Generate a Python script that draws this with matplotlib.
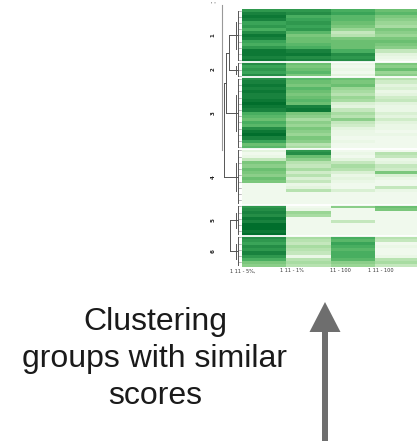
import numpy as np
import matplotlib
matplotlib.use("Agg")
import matplotlib.pyplot as plt
from matplotlib.patches import FancyArrow

# ---- data (values 0..1 on Greens scale) ----
cluster_names = ["1", "2", "3", "4", "5", "6"]
col_labels = ["1 11 - 5%,", "1 11 - 1%", "11 - 100", "1 11 - 100"]

c1_col1 = [0.8,0.9,0.95,0.9,0.75,0.8,0.7,0.85,0.95,0.9,0.75,0.7,0.8,0.95,0.95,0.9,0.95]
c1_col2 = [0.8,0.85,0.7,0.75,0.8,0.75,0.8,0.65,0.55,0.6,0.6,0.65,0.7,0.9,0.95,0.85,0.9]
c1_col3 = [0.7,0.75,0.65,0.65,0.6,0.55,0.45,0.3,0.35,0.55,0.6,0.6,0.6,0.7,0.85,0.8,0.85]
c1_col4 = [0.6,0.65,0.55,0.5,0.45,0.4,0.55,0.5,0.45,0.55,0.6,0.55,0.5,0.3,0.15,0.1,0.05]

c2_col1 = [0.85,0.75,0.8,0.75,0.85]
c2_col2 = [0.6,0.55,0.6,0.65,0.55]
c2_col3 = [0.1,0.05,0.1,0.05,0.15]
c2_col4 = [0.55,0.5,0.6,0.45,0.5]

c3_col1 = [0.85,0.9,0.95,0.9,0.95,0.9,0.9,0.95,1.0,0.95,0.9,0.7,0.65,0.6,0.7,0.65,0.85,0.95,1.0,0.9,0.75,0.6,0.65]
c3_col2 = [0.65,0.6,0.55,0.65,0.6,0.55,0.6,0.65,0.6,0.9,0.95,0.55,0.5,0.4,0.5,0.45,0.55,0.5,0.45,0.55,0.5,0.35,0.4]
c3_col3 = [0.6,0.55,0.6,0.45,0.4,0.35,0.45,0.4,0.2,0.15,0.3,0.4,0.35,0.5,0.3,0.25,0.15,0.1,0.1,0.05,0.1,0.05,0.05]
c3_col4 = [0.35,0.25,0.15,0.2,0.1,0.15,0.25,0.3,0.15,0.1,0.1,0.2,0.15,0.25,0.15,0.1,0.1,0.05,0.1,0.05,0.05,0.05,0.05]

c4_col1 = [0.15,0.05,0.1,0.3,0.55,0.5,0.6,0.55,0.5,0.6,0.55,0.05,0.05,0.05,0.05,0.05,0.05,0.05]
c4_col2 = [0.8,0.85,0.6,0.5,0.35,0.3,0.4,0.25,0.35,0.2,0.3,0.1,0.15,0.35,0.05,0.05,0.05,0.05]
c4_col3 = [0.05,0.1,0.05,0.15,0.3,0.4,0.35,0.2,0.1,0.15,0.1,0.05,0.05,0.2,0.05,0.05,0.05,0.05]
c4_col4 = [0.05,0.35,0.3,0.1,0.15,0.3,0.25,0.55,0.2,0.1,0.05,0.05,0.3,0.1,0.05,0.05,0.05,0.05]

c5_col1 = [0.8,0.85,0.9,0.85,0.95,0.9,1.0,1.0,0.95,1.0]
c5_col2 = [0.05,0.1,0.45,0.4,0.05,0.05,0.05,0.05,0.05,0.05]
c5_col3 = [0.5,0.05,0.05,0.05,0.05,0.3,0.05,0.05,0.05,0.05]
c5_col4 = [0.6,0.55,0.05,0.05,0.05,0.05,0.05,0.05,0.05,0.05]

c6_col1 = [0.85,0.8,0.75,0.85,0.8,0.9,0.8,0.7,0.55,0.5]
c6_col2 = [0.4,0.35,0.3,0.4,0.35,0.3,0.1,0.35,0.4,0.35]
c6_col3 = [0.7,0.65,0.75,0.7,0.65,0.7,0.7,0.65,0.5,0.45]
c6_col4 = [0.35,0.3,0.05,0.1,0.05,0.05,0.1,0.35,0.4,0.3]

clusters = [
    [c1_col1, c1_col2, c1_col3, c1_col4],
    [c2_col1, c2_col2, c2_col3, c2_col4],
    [c3_col1, c3_col2, c3_col3, c3_col4],
    [c4_col1, c4_col2, c4_col3, c4_col4],
    [c5_col1, c5_col2, c5_col3, c5_col4],
    [c6_col1, c6_col2, c6_col3, c6_col4],
]

caption_lines = ["Clustering", "groups with similar", "scores"]

# ---- figure ----
W, H = 417, 441
fig = plt.figure(figsize=(W / 100, H / 100), dpi=100)

# heatmap axes (pixel layout)
hx0, hx1, hy0, hy1 = 242, 420, 9, 267
ax = fig.add_axes([hx0 / W, 1 - hy1 / H, (hx1 - hx0) / W, (hy1 - hy0) / H])
mat = np.vstack([np.array(c).T for c in clusters])
ax.imshow(mat, cmap="Greens", vmin=0, vmax=1.15, aspect="auto", interpolation="nearest")
sizes = [len(c[0]) for c in clusters]
bounds = np.cumsum(sizes)
for b in bounds[:-1]:
    ax.axhline(b - 0.5, color="white", lw=1.3)
ax.set_axis_off()

# overlay axes in pixel coordinates
ov = fig.add_axes([0, 0, 1, 1])
ov.set_xlim(0, W)
ov.set_ylim(H, 0)
ov.set_axis_off()
ov.patch.set_alpha(0)

n = mat.shape[0]
rh = (hy1 - hy0) / n
starts = np.concatenate([[0], bounds[:-1]])
centers = [hy0 + (s + z / 2) * rh for s, z in zip(starts, sizes)]
tops = [hy0 + s * rh for s in starts]
bots = [hy0 + (s + z) * rh for s, z in zip(starts, sizes)]

lc = "#555555"
lw = 0.7
# leaf-level mini dendrograms
for t, b, c, z in zip(tops, bots, centers, sizes):
    for i in range(0, z, 2):
        y = t + (i + 0.5) * rh
        ov.plot([238.5, 241.5], [y, y], color="#888888", lw=0.4)
    ov.plot([238.5, 238.5], [t + rh / 2, b - rh / 2], color=lc, lw=lw)
    ov.plot([236, 238.5], [c, c], color=lc, lw=lw)
    ov.plot([236, 236], [c - (b - t) * 0.25, c + (b - t) * 0.25], color=lc, lw=lw)

# upper levels
def link(x_child, ya, yb, x_parent):
    ov.plot([x_parent, x_child], [ya, ya], color=lc, lw=lw)
    ov.plot([x_parent, x_child], [yb, yb], color=lc, lw=lw)
    ov.plot([x_parent, x_parent], [ya, yb], color=lc, lw=lw)
    return (ya + yb) / 2

m12 = link(236, centers[0], centers[1], 229.5)
m123 = link(229.5, m12, centers[2], 226.5)
ov.plot([229.5, 236], [centers[2], centers[2]], color=lc, lw=lw)
m1234 = link(226.5, m123, centers[3], 224)
ov.plot([226.5, 236], [centers[3], centers[3]], color=lc, lw=lw)
m56 = link(236, centers[4], centers[5], 230)
ov.plot([222.5, 222.5], [5, 150], color="#999999", lw=0.8)

# cluster labels
for name, c in zip(cluster_names, centers):
    ov.text(213, c, name, rotation=90, fontsize=4, ha="center", va="center",
            color="#222222", fontweight="bold")
ov.text(213, 5, "' '", fontsize=4, ha="center", va="center", color="#444444")

# column labels
for lab, x in zip(col_labels, [243, 292, 340, 381]):
    ov.text(x, 271, lab, fontsize=3.6, ha="center", va="center", color="#333333")

# caption
for line, yb in zip(caption_lines, [330, 367, 404]):
    ov.text(155, yb, line, fontsize=23, family="Liberation Sans", ha="center",
            va="baseline", color="#1a1a1a")

# arrow
ov.add_patch(FancyArrow(325, 445, 0, -143, width=6, head_width=31, head_length=30,
                        length_includes_head=True, color="#6e6e6e", lw=0))

fig.savefig("out.png", dpi=100)
